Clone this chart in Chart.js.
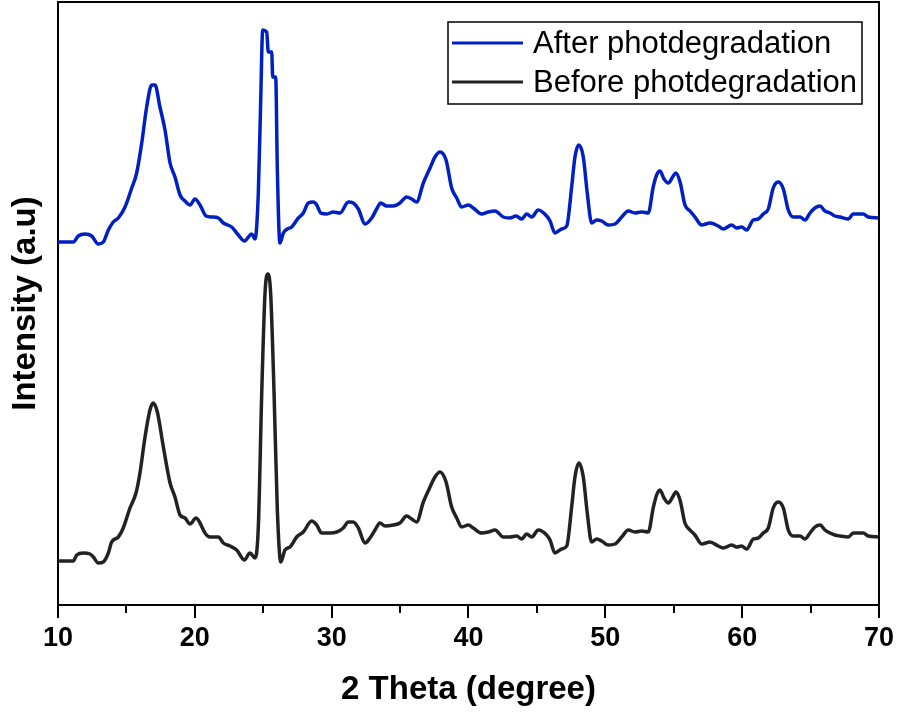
<!DOCTYPE html>
<html>
<head>
<meta charset="utf-8">
<script src="https://cdn.jsdelivr.net/npm/chart.js@4.4.1/dist/chart.umd.min.js"></script>
<style>
  html, body { margin: 0; padding: 0; background: #fff; }
  #wrap { width: 898px; height: 720px; }
</style>
</head>
<body>
<div id="wrap"><canvas id="xrdChart"></canvas></div>
<script>
// 2 Theta (degree) positions, before photodegradation
const thetaBefore = [10.0, 11.12, 11.37, 11.85, 12.34, 12.58, 12.95, 13.31, 13.68, 13.92, 14.41, 14.77, 15.26, 15.70, 15.99, 16.36, 16.72, 16.96, 17.26, 17.70,
  18.19, 18.55, 18.92, 19.28, 19.65, 20.09, 20.38, 20.74, 21.11, 21.72, 22.08, 22.57, 23.06, 23.62, 24.03, 24.40, 24.64, 24.89, 25.13, 25.33,
  25.54, 25.79, 26.03, 26.28, 26.59, 26.96, 27.44, 27.93, 28.54, 28.91, 29.27, 29.88, 30.37, 30.85, 31.22, 31.58, 31.95, 32.44, 32.80, 33.17,
  33.53, 33.90, 34.50, 34.99, 35.48, 35.85, 36.21, 36.70, 37.19, 37.55, 37.92, 38.36, 38.77, 39.14, 39.50, 39.99, 40.35, 40.96, 41.45, 41.94,
  42.54, 43.03, 43.52, 43.89, 44.25, 44.62, 45.10, 45.71, 45.96, 46.32, 46.81, 47.18, 47.54, 47.78, 48.07, 48.39, 48.68, 49.00, 49.37, 49.73,
  50.22, 50.71, 51.20, 51.68, 52.17, 52.66, 53.14, 53.50, 53.75, 53.99, 54.29, 54.60, 54.92, 55.16, 55.46, 55.82, 56.19, 56.55, 57.04, 57.65,
  58.25, 58.62, 59.23, 59.60, 59.96, 60.33, 60.81, 61.18, 61.54, 61.91, 62.27, 62.64, 63.01, 63.37, 63.74, 64.23, 64.59, 64.96, 65.32, 65.69,
  66.05, 66.42, 66.78, 67.15, 67.76, 68.12, 68.85, 69.22, 70.0]
const intensityBefore = [41, 41, 47, 49, 48, 45, 39, 40, 49, 60, 65, 74, 94, 109, 129, 165, 192, 199, 190, 155,
  119, 105, 87, 84, 78, 84, 79, 69, 65, 65, 59, 56, 52, 42, 49, 44, 75, 209, 309, 328,
  309, 209, 92, 40, 52, 55, 65, 70, 81, 77, 69, 69, 70, 74, 80, 80, 74, 59, 64, 72,
  79, 76, 77, 79, 86, 83, 80, 100, 115, 125, 130, 120, 95, 84, 75, 77, 74, 69, 70, 72,
  65, 65, 66, 63, 68, 65, 72, 67, 62, 49, 53, 56, 95, 125, 139, 125, 89, 60, 63, 61,
  57, 58, 65, 72, 70, 71, 70, 94, 107, 112, 104, 99, 105, 110, 102, 79, 72, 67, 58, 60,
  56, 54, 57, 55, 56, 53, 63, 64, 69, 74, 94, 100, 94, 72, 66, 66, 63, 69, 75, 77,
  72, 69, 67, 66, 65, 69, 69, 66, 65]

// after photodegradation (stacked higher in the picture, 25 deg peak flattened)
const thetaAfter = [10.0, 11.12, 11.48, 11.97, 12.46, 12.95, 13.31, 13.68, 14.04, 14.41, 14.90, 15.39, 15.75, 16.12, 16.48, 16.85, 17.09, 17.45, 17.82, 18.19,
  18.55, 18.92, 19.28, 19.65, 20.01, 20.38, 20.82, 21.23, 21.72, 22.08, 22.69, 23.18, 23.62, 24.16, 24.40, 24.64, 24.81, 24.96, 25.25, 25.37,
  25.62, 25.69, 25.91, 26.03, 26.22, 26.47, 26.76, 27.08, 27.56, 27.93, 28.29, 28.66, 28.91, 29.20, 29.64, 30.12, 30.61, 31.22, 31.58, 31.95,
  32.44, 32.93, 33.29, 33.58, 34.02, 34.50, 34.99, 35.48, 35.85, 36.21, 36.70, 37.19, 37.55, 37.92, 38.36, 38.77, 39.14, 39.50, 39.99, 40.35,
  40.96, 41.45, 41.94, 42.54, 43.03, 43.47, 43.89, 44.25, 44.62, 45.10, 45.71, 45.96, 46.32, 46.81, 47.18, 47.54, 47.78, 48.05, 48.39, 48.68,
  49.00, 49.37, 49.73, 50.22, 50.71, 51.20, 51.68, 52.17, 52.66, 53.14, 53.50, 53.75, 53.99, 54.29, 54.60, 54.92, 55.16, 55.46, 55.82, 56.19,
  56.55, 57.04, 57.65, 58.25, 58.62, 59.23, 59.60, 59.96, 60.33, 60.81, 61.18, 61.54, 61.91, 62.27, 62.64, 63.01, 63.37, 63.74, 64.23, 64.59,
  64.96, 65.32, 65.69, 66.05, 66.42, 66.78, 67.15, 67.76, 68.12, 68.85, 69.22, 70.0]
const intensityAfter = [360, 360, 366, 368, 366, 358, 360, 372, 380, 384, 395, 414, 429, 459, 495, 517, 517, 495, 472, 439,
  425, 407, 401, 397, 403, 397, 386, 385, 384, 379, 375, 367, 361, 368, 363, 409, 499, 572, 570, 550,
  550, 525, 525, 432, 359, 369, 373, 375, 384, 389, 399, 400, 397, 389, 388, 390, 389, 400, 399, 393,
  378, 384, 393, 399, 396, 396, 399, 405, 403, 400, 419, 434, 445, 450, 442, 414, 404, 395, 397, 394,
  388, 390, 391, 385, 384, 386, 383, 388, 385, 392, 386, 381, 369, 373, 376, 415, 445, 457, 445, 409,
  379, 382, 381, 377, 378, 385, 391, 389, 390, 389, 415, 427, 431, 423, 419, 425, 429, 420, 397, 391,
  385, 377, 379, 376, 373, 377, 374, 375, 372, 382, 383, 388, 393, 414, 420, 413, 392, 385, 385, 382,
  389, 394, 396, 391, 389, 386, 385, 383, 388, 388, 385, 384]

const xMajorTicks = [10, 20, 30, 40, 50, 60, 70]
const xMinorTicks = [15, 25, 35, 45, 55, 65]

const colorAfter = '#0020c4'
const colorBefore = '#222222'

const toPoints = (xs, ys) => xs.map((x, i) => ({ x: x, y: ys[i] }))

// frame on top/right + minor ticks below the x axis
const framePlugin = {
  id: 'framePlugin',
  afterDraw(chart) {
    const { ctx, chartArea } = chart
    const xScale = chart.scales.x
    ctx.save()
    ctx.strokeStyle = '#000'
    ctx.lineWidth = 2
    ctx.beginPath()
    ctx.moveTo(chartArea.left, chartArea.top)
    ctx.lineTo(chartArea.right, chartArea.top)
    ctx.lineTo(chartArea.right, chartArea.bottom)
    ctx.stroke()
    xMinorTicks.forEach(v => {
      const px = Math.round(xScale.getPixelForValue(v))
      ctx.beginPath()
      ctx.moveTo(px, chartArea.bottom)
      ctx.lineTo(px, chartArea.bottom + 8)
      ctx.stroke()
    })
    ctx.restore()
  }
}

// boxed legend in the upper right corner
const boxLegendPlugin = {
  id: 'boxLegend',
  afterDraw(chart) {
    const { ctx } = chart
    const left = 448, top = 22, w = 414, h = 82
    ctx.save()
    ctx.fillStyle = '#fff'
    ctx.fillRect(left, top, w, h)
    ctx.strokeStyle = '#000'
    ctx.lineWidth = 1.5
    ctx.strokeRect(left, top, w, h)
    ctx.font = '31px "Liberation Sans", Arial, sans-serif'
    ctx.textBaseline = 'middle'
    chart.data.datasets.forEach((ds, i) => {
      const y = 43 + i * 39
      ctx.strokeStyle = ds.borderColor
      ctx.lineWidth = 3
      ctx.beginPath()
      ctx.moveTo(452, y)
      ctx.lineTo(523, y)
      ctx.stroke()
      ctx.fillStyle = '#000'
      ctx.fillText(ds.label, 533, y + 1)
    })
    ctx.restore()
  }
}

const ctx = document.getElementById('xrdChart').getContext('2d')
const xrdChart = new Chart(ctx, {
  type: 'line',
  data: {
    datasets: [{
      label: 'After photdegradation',
      data: toPoints(thetaAfter, intensityAfter),
      borderColor: colorAfter,
      borderWidth: 3.5,
      pointRadius: 0,
      cubicInterpolationMode: 'monotone',
      fill: false
    }, {
      label: 'Before photdegradation',
      data: toPoints(thetaBefore, intensityBefore),
      borderColor: colorBefore,
      borderWidth: 3.5,
      pointRadius: 0,
      cubicInterpolationMode: 'monotone',
      fill: false
    }]
  },
  options: {
    responsive: true,
    maintainAspectRatio: false,
    animation: false,
    layout: { padding: { top: 2, right: 19, left: 0, bottom: 0 } },
    plugins: {
      legend: { display: false },
      tooltip: { enabled: false }
    },
    scales: {
      x: {
        type: 'linear',
        min: 10,
        max: 70,
        afterFit: scale => { scale.height = 115 },
        afterBuildTicks: scale => { scale.ticks = xMajorTicks.map(v => ({ value: v })) },
        border: { display: true, color: '#000', width: 2 },
        grid: { drawOnChartArea: false, drawTicks: true, tickLength: 13, color: '#000', lineWidth: 2 },
        ticks: {
          color: '#000',
          padding: 4,
          maxRotation: 0,
          font: { family: '"Liberation Sans", Arial, sans-serif', size: 27, weight: 'bold' }
        },
        title: {
          display: true,
          text: '2 Theta (degree)',
          color: '#000',
          padding: { top: 0, bottom: 10 },
          font: { family: '"Liberation Sans", Arial, sans-serif', size: 33, weight: 'bold' }
        }
      },
      y: {
        min: -3,
        max: 600,
        afterFit: scale => { scale.width = 58 },
        border: { display: true, color: '#000', width: 2 },
        grid: { display: false },
        ticks: { display: false },
        title: {
          display: true,
          text: 'Intensity (a.u)',
          color: '#000',
          padding: { top: 6, bottom: 0 },
          font: { family: '"Liberation Sans", Arial, sans-serif', size: 33, weight: 'bold' }
        }
      }
    }
  },
  plugins: [framePlugin, boxLegendPlugin]
})
</script>
</body>
</html>
